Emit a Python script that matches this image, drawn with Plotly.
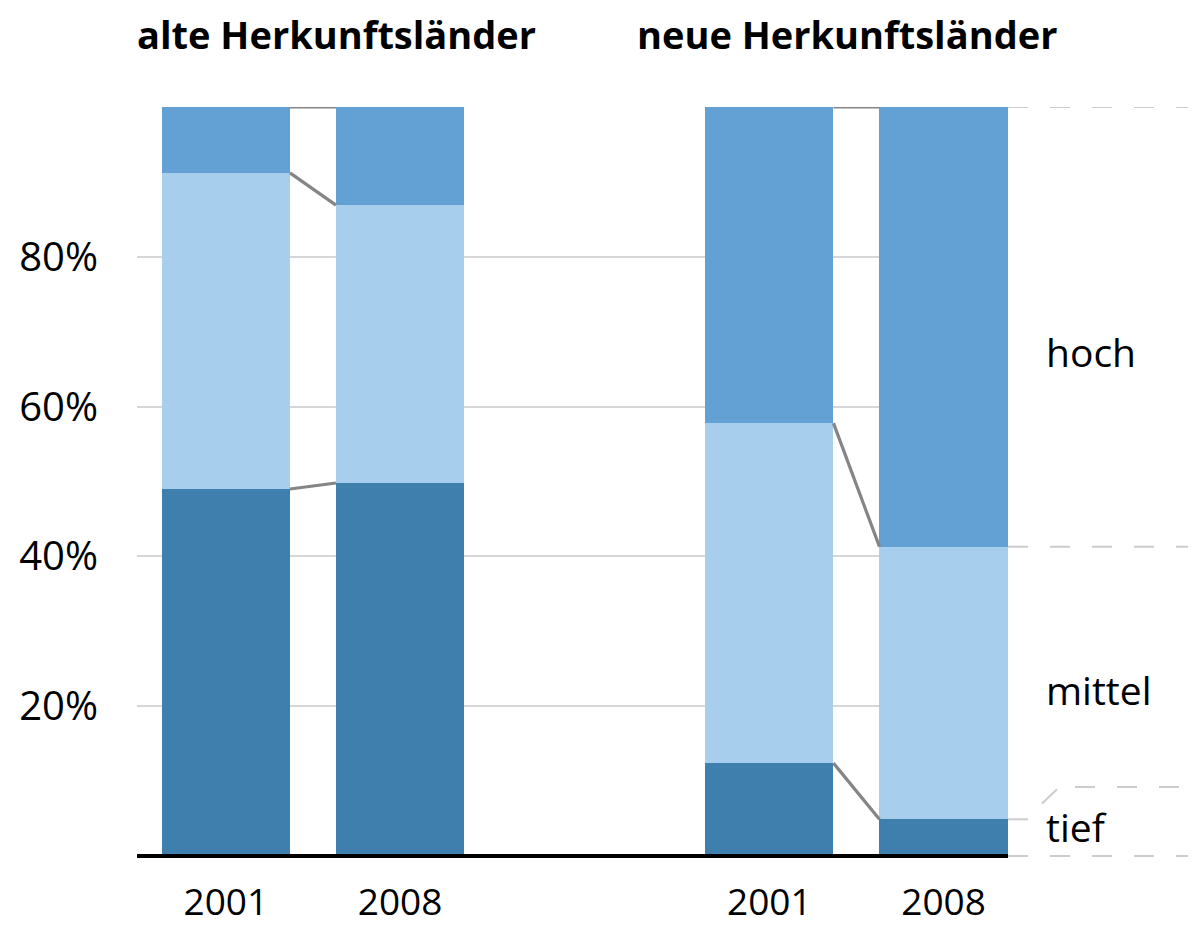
import plotly.graph_objects as go

# ---- data ----
groups = ["alte Herkunftsländer", "neue Herkunftsländer"]
years = ["2001", "2008"]
levels = ["tief", "mittel", "hoch"]
tief = [49.0, 49.8, 12.4, 4.9]
mittel = [42.2, 37.1, 45.4, 36.4]
hoch = [8.8, 13.1, 42.2, 58.7]
tick_vals = [20, 40, 60, 80]
tick_text = ["20%", "40%", "60%", "80%"]

# ---- style ----
colors = {"tief": "#3F7FAD", "mittel": "#A8CEEE", "hoch": "#63A1D4"}
FONT = "Open Sans"
positions = [0, 1, 3.12, 4.12]
bar_w = 0.736
xr = [-0.51, 4.49]
OFF = 8  # default page body margin
W, H = 1196 - OFF, 926 - OFF
L, R, T, B = 137 - OFF, 188, 107 - OFF, 70

fig = go.Figure()
series = {"tief": tief, "mittel": mittel, "hoch": hoch}
for lv in levels:
    fig.add_trace(go.Bar(x=positions, y=series[lv], width=bar_w,
                         marker=dict(color=colors[lv], line=dict(width=0)),
                         name=lv, showlegend=False, hoverinfo="skip"))

# connectors between 2001 and 2008 bars
for gi in range(2):
    a, b = 2 * gi, 2 * gi + 1
    ca = [tief[a], tief[a] + mittel[a], tief[a] + mittel[a] + hoch[a]]
    cb = [tief[b], tief[b] + mittel[b], tief[b] + mittel[b] + hoch[b]]
    for ya, yb in zip(ca, cb):
        fig.add_trace(go.Scatter(x=[positions[a] + bar_w / 2, positions[b] - bar_w / 2],
                                 y=[ya, yb], mode="lines",
                                 line=dict(color="#858585", width=3.2),
                                 showlegend=False, hoverinfo="skip", cliponaxis=False))

plot_w = W - L - R
plot_h = H - T - B
def px2paper(px):  # window pixel -> paper x
    return (px - OFF - L) / plot_w
def py2paper(py):  # window pixel -> paper y
    return 1 - (py - OFF - T) / plot_h

shapes = []
# baseline (y = 0 is the bottom of the plot area)
shapes.append(dict(type="line", xref="paper", yref="paper", x0=0, x1=1, y0=0, y1=0,
                   line=dict(color="black", width=4), layer="above"))
# dashed extensions on right
last = 3
top_last = tief[last] + mittel[last] + hoch[last]
mid_last = tief[last] + mittel[last]
dash = "20px,22px"
shapes.append(dict(type="line", xref="paper", yref="paper", x0=1, x1=px2paper(1196), y0=0, y1=0,
                   line=dict(color="#cccccc", width=2, dash=dash)))
for yv in [mid_last, top_last]:
    shapes.append(dict(type="line", xref="paper", yref="y", x0=1, x1=px2paper(1196), y0=yv, y1=yv,
                       line=dict(color="#cccccc", width=2, dash=dash)))
# tief label leader
tief_label_y = 9.2
shapes.append(dict(type="line", xref="paper", yref="y", x0=1, x1=px2paper(1028),
                   y0=tief[last], y1=tief[last], line=dict(color="#cccccc", width=2)))
shapes.append(dict(type="line", xref="paper", yref="y", x0=px2paper(1042), x1=px2paper(1057),
                   y0=7.0, y1=8.9, line=dict(color="#cccccc", width=2)))
shapes.append(dict(type="line", xref="paper", yref="y", x0=px2paper(1075), x1=px2paper(1196),
                   y0=tief_label_y, y1=tief_label_y,
                   line=dict(color="#cccccc", width=2, dash=dash)))

title_y = py2paper(34)
annotations = [
    dict(text="<b>alte Herkunftsländer</b>", xref="paper", yref="paper", x=px2paper(135),
         y=title_y, xanchor="left", yanchor="middle", showarrow=False,
         font=dict(family=FONT, size=38, color="black")),
    dict(text="<b>neue Herkunftsländer</b>", xref="paper", yref="paper", x=px2paper(635),
         y=title_y, xanchor="left", yanchor="middle", showarrow=False,
         font=dict(family=FONT, size=38, color="black")),
]
label_y = {"hoch": 67.3, "mittel": 22.2, "tief": 4.0}
for lv in levels:
    annotations.append(dict(text=lv, xref="paper", yref="y", x=px2paper(1044), y=label_y[lv],
                            xanchor="left", yanchor="middle", showarrow=False,
                            font=dict(family=FONT, size=39, color="black")))

fig.update_layout(
    width=W, height=H, margin=dict(l=L, r=R, t=T, b=B, pad=0, autoexpand=False),
    plot_bgcolor="white", paper_bgcolor="white", barmode="stack", bargap=0,
    shapes=shapes, annotations=annotations,
    xaxis=dict(range=xr, tickvals=positions, ticktext=years * 2, showgrid=False,
               zeroline=False, showline=False, ticks="outside", ticklen=14,
               tickcolor="rgba(0,0,0,0)", tickfont=dict(family=FONT, size=37, color="black"),
               fixedrange=True, automargin=False),
    yaxis=dict(range=[0, 100], tickvals=tick_vals + [100], ticktext=tick_text + [""],
               showgrid=True, gridcolor="#d6d6d6", gridwidth=1.5, zeroline=False,
               showline=False, ticks="outside", ticklen=30, tickcolor="rgba(0,0,0,0)",
               tickfont=dict(family=FONT, size=40, color="black"), fixedrange=True,
               automargin=False),
)

fig.write_html("out.html")
